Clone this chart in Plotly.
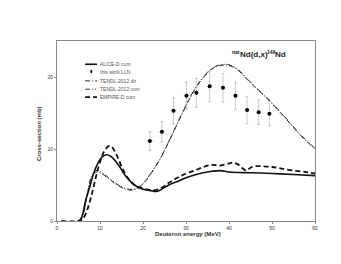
import plotly.graph_objects as go

# Experimental data (this work LLN)
exp_E = [21.6, 24.4, 27.1, 30.1, 32.4, 35.5, 38.6, 41.5, 44.2, 46.9, 49.4]
exp_xs = [11.1, 12.4, 15.3, 17.4, 17.8, 18.7, 18.5, 17.4, 15.4, 15.1, 14.9]
exp_dy = [1.3, 1.4, 1.8, 1.9, 2.0, 2.1, 2.0, 1.9, 1.9, 1.7, 1.7]
exp_dx = [0.8, 0.8, 0.7, 0.7, 0.6, 0.6, 0.5, 0.5, 0.4, 0.4, 0.4]

# ALICE-D cum
alice_E = [5.5, 6, 6.6, 7.75, 8.5, 9.5, 10.5, 11.5, 12.5, 13.5, 14.5, 16, 18, 20, 22, 23, 24, 26, 28, 30, 32, 34, 36, 38, 40, 45, 50, 55, 60]
alice_xs = [0, 1.0, 2.7, 5.0, 6.6, 8.0, 8.9, 9.2, 9.0, 8.4, 7.6, 6.2, 5.0, 4.4, 4.2, 4.1, 4.3, 5.0, 5.5, 6.0, 6.4, 6.7, 6.9, 7.0, 6.8, 6.7, 6.6, 6.45, 6.3]

# TENDL-2012 dir
tendl_E = [5, 6, 7, 8, 9, 10, 12, 14, 16, 17.5, 19, 20, 22, 24, 26, 28, 30, 32, 34, 36, 38, 40, 42, 44, 46, 48, 50, 52, 54, 56, 58, 60]
tendl_dir = [0, 0.8, 3.5, 6.0, 6.8, 6.7, 5.9, 5.0, 4.4, 4.3, 4.6, 5.1, 6.7, 8.6, 11.0, 13.5, 16.0, 18.2, 19.9, 21.1, 21.6, 21.6, 21.0, 19.8, 18.6, 17.5, 16.3, 15.0, 13.7, 12.3, 11.1, 10.0]
# TENDL-2012 cum
tendl_cum = [0, 0.9, 3.7, 6.2, 7.0, 6.9, 6.0, 5.1, 4.5, 4.4, 4.7, 5.2, 6.8, 8.7, 11.1, 13.6, 16.1, 18.3, 20.0, 21.2, 21.7, 21.7, 21.1, 19.9, 18.7, 17.6, 16.4, 15.1, 13.8, 12.4, 11.2, 10.1]

# EMPIRE-D cum
emp_E = [1, 5, 6, 7, 8, 9, 10, 11, 12, 12.5, 13, 14, 15, 16, 17, 18, 20, 22, 23, 24, 26, 28, 30, 32, 34, 36, 38, 40, 41, 42, 43, 44, 45, 46, 48, 50, 52, 55, 58, 60]
emp_xs = [0, 0, 0.3, 1.5, 3.5, 6.0, 8.2, 9.7, 10.4, 10.4, 10.1, 9.0, 7.6, 6.4, 5.6, 5.0, 4.5, 4.3, 4.3, 4.5, 5.3, 6.0, 6.6, 7.0, 7.5, 7.8, 7.7, 8.0, 8.1, 7.9, 7.4, 7.0, 7.4, 7.6, 7.6, 7.5, 7.3, 7.0, 6.8, 6.6]

legend_names = ["ALICE-D cum", "this work LLN", "TENDL-2012 dir", "TENDL-2012 cum", "EMPIRE-D cum"]
x_title = "Deuteron energy (MeV)"
y_title = "Cross-section (mb)"
# title pieces: (text, is_superscript)
title_parts = [("nat", True), ("Nd(d,x)", False), ("149", True), ("Nd", False)]

fig = go.Figure()
fig.add_trace(go.Scatter(x=tendl_E, y=tendl_dir, mode="lines", name=legend_names[2],
                         line=dict(color="#222", width=1, dash="5px,2px,1px,2px"), line_shape="spline"))
fig.add_trace(go.Scatter(x=tendl_E, y=tendl_cum, mode="lines", name=legend_names[3],
                         line=dict(color="#333", width=1, dash="5px,2px,1px,2px,1px,2px"), line_shape="spline"))
fig.add_trace(go.Scatter(x=alice_E, y=alice_xs, mode="lines", name=legend_names[0],
                         line=dict(color="#111", width=1.6), line_shape="spline"))
fig.add_trace(go.Scatter(x=emp_E, y=emp_xs, mode="lines", name=legend_names[4],
                         line=dict(color="#111", width=1.8, dash="5px,3px"), line_shape="spline"))
fig.add_trace(go.Scatter(x=exp_E, y=exp_xs, mode="markers", name=legend_names[1],
                         marker=dict(color="black", size=4),
                         error_y=dict(type="data", array=exp_dy, color="#bbbbbb", thickness=0.8, width=1.5),
                         error_x=dict(type="data", array=exp_dx, color="#bbbbbb", thickness=0.8, width=0)))

def px_x(p):
    return (p - 49) / 258.0
def py(p):
    return (213 - p) / 180.3

# Manual compact legend (paper coords)
x0, x1, xt = 0.109, 0.155, 0.160
rows_px = [56, 63.3, 72.7, 81, 89]
styles = [
    dict(color="#111", width=1.6, dash="solid"),
    None,
    dict(color="#222", width=1, dash="5px,2px,1px,2px"),
    dict(color="#333", width=1, dash="5px,2px,1px,2px,1px,2px"),
    dict(color="#111", width=1.8, dash="5px,3px"),
]
shapes = []
annotations = []
for name, rp, st in zip(legend_names, rows_px, styles):
    yy = py(rp)
    if st is None:
        shapes.append(dict(type="circle", xref="paper", yref="paper",
                           x0=0.129, x1=0.137, y0=yy - 0.01, y1=yy + 0.01,
                           fillcolor="black", line=dict(width=0)))
    else:
        shapes.append(dict(type="line", xref="paper", yref="paper", x0=x0, x1=x1, y0=yy, y1=yy,
                           line=st))
    annotations.append(dict(x=xt, y=yy, xref="paper", yref="paper", text=name, showarrow=False,
                            xanchor="left", yanchor="middle",
                            font=dict(size=5, color="#555", family="Liberation Sans, Arial")))

# Title built from pieces (superscripts as smaller raised pieces)
cur = 223.0
for txt, sup in title_parts:
    size = 5 if sup else 8
    # approximate bold Liberation Sans advance widths (em)
    widths = {"n": .611, "a": .556, "t": .333, "N": .722, "d": .611, "(": .333, ",": .278,
              "x": .556, ")": .333, "1": .556, "4": .556, "9": .556}
    w = sum(widths.get(c, .55) for c in txt) * size
    annotations.append(dict(x=px_x(cur), y=py(43.5 if sup else 46.5), xref="paper", yref="paper",
                            text="<b>" + txt + "</b>", showarrow=False, xanchor="left", yanchor="middle",
                            borderpad=0, font=dict(size=size, color="#222", family="Liberation Sans, Arial")))
    cur += w

annotations.append(dict(x=0.508, y=py(226), xref="paper", yref="paper",
                        text="<b>" + x_title + "</b>", showarrow=False,
                        xanchor="center", yanchor="middle",
                        font=dict(size=6, color="#333", family="Liberation Sans, Arial")))
annotations.append(dict(x=-0.07, y=0.488, xref="paper", yref="paper", textangle=-90,
                        text="<b>" + y_title + "</b>", showarrow=False,
                        xanchor="center", yanchor="middle",
                        font=dict(size=6, color="#333", family="Liberation Sans, Arial")))

fig.update_layout(
    width=341, height=264, autosize=False,
    margin=dict(l=49, r=34, t=33, b=51),
    paper_bgcolor="white", plot_bgcolor="white",
    showlegend=False,
    shapes=shapes, annotations=annotations,
    font=dict(family="Liberation Sans, Arial", color="#333"),
    xaxis=dict(range=[0, 60], tickvals=[0, 10, 20, 30, 40, 50, 60], showgrid=False, zeroline=False,
               showline=True, linecolor="#888", linewidth=1, mirror=True, ticks="outside", ticklen=2,
               tickcolor="#888", tickfont=dict(size=5, color="#333")),
    yaxis=dict(range=[0, 25], tickvals=[0, 10, 20], showgrid=False, zeroline=False,
               showline=True, linecolor="#888", linewidth=1, mirror=True, ticks="outside", ticklen=2,
               tickcolor="#888", tickfont=dict(size=5, color="#333")),
)

fig.write_html("out.html")
